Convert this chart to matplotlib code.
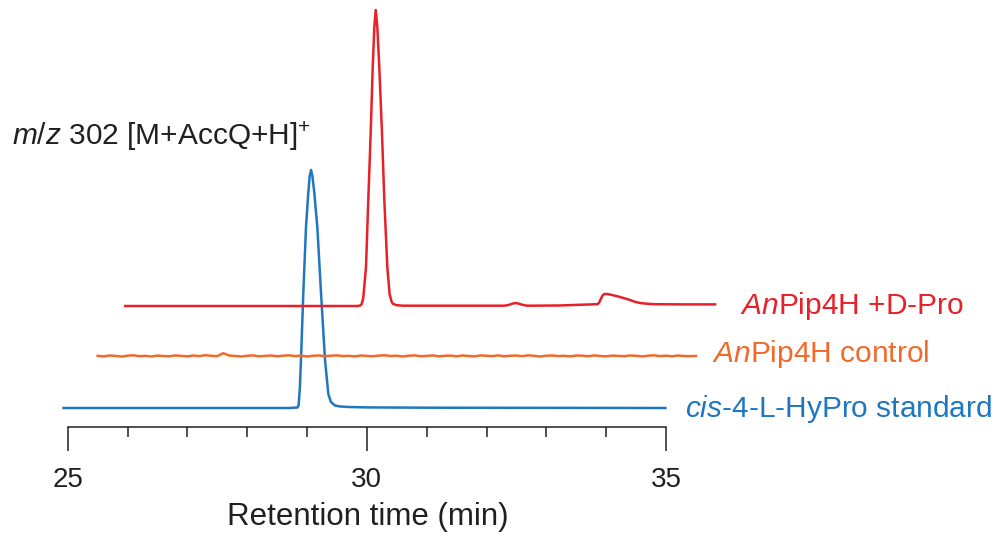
import matplotlib
matplotlib.use("Agg")
import matplotlib.pyplot as plt

plt.rcParams['font.family'] = ['Liberation Sans', 'DejaVu Sans']
plt.rcParams['mathtext.fontset'] = 'custom'
plt.rcParams['mathtext.rm'] = 'Liberation Sans'
plt.rcParams['mathtext.it'] = 'Liberation Sans:italic'
plt.rcParams['mathtext.default'] = 'regular'

# ---------------- data (retention time in min, intensity in arbitrary units) ----------------
blue_t = [24.93, 28.70, 28.84, 28.86, 28.88, 28.899, 28.938, 28.983, 29.021, 29.045, 29.067,
          29.09, 29.122, 29.172, 29.234, 29.301, 29.356, 29.40, 29.468, 29.55, 29.70, 30.00,
          31.00, 34.99]
blue_i = [0, 0, 0.5, 3, 20, 48, 115, 181, 215, 232, 238,
          232, 215, 181, 115, 48, 14, 6, 2.5, 1.5, 1, 0.6,
          0.3, 0]

orange_t = [25.5, 25.6, 25.7, 25.8, 25.9, 26.0, 26.1, 26.2, 26.3, 26.4,
            26.5, 26.6, 26.7, 26.8, 26.9, 27.0, 27.1, 27.2, 27.3, 27.4,
            27.5, 27.6, 27.7, 27.8, 27.9, 28.0, 28.1, 28.2, 28.3, 28.4,
            28.5, 28.6, 28.7, 28.8, 28.9, 29.0, 29.1, 29.2, 29.3, 29.4,
            29.5, 29.6, 29.7, 29.8, 29.9, 30.0, 30.1, 30.2, 30.3, 30.4,
            30.5, 30.6, 30.7, 30.8, 30.9, 31.0, 31.1, 31.2, 31.3, 31.4,
            31.5, 31.6, 31.7, 31.8, 31.9, 32.0, 32.1, 32.2, 32.3, 32.4,
            32.5, 32.6, 32.7, 32.8, 32.9, 33.0, 33.1, 33.2, 33.3, 33.4,
            33.5, 33.6, 33.7, 33.8, 33.9, 34.0, 34.1, 34.2, 34.3, 34.4,
            34.5, 34.6, 34.7, 34.8, 34.9, 35.0, 35.1, 35.2, 35.3, 35.4,
            35.5]
orange_i = [0.2, -0.4, 0.5, 0.1, -0.6, 0.3, 0.7, -0.2, 0.2, -0.5,
            0.4, 0.0, -0.3, 0.6, 0.1, -0.4, 0.5, -0.1, 0.8, 0.2,
            -0.2, 2.8, 0.4, 0.1, -0.5, 0.2, 0.6, -0.3, 0.1, 0.5,
            -0.3, 0.3, 0.7, -0.1, 0.4, -0.5, 0.2, 0.5, -0.2, 0.3,
            0.6, -0.1, 0.2, -0.4, 0.5, 0.1, -0.3, 0.4, 0.7, 0.0,
            0.3, -0.5, 0.3, 0.6, -0.2, 0.1, 0.6, -0.3, 0.2, 0.4,
            -0.3, 0.5, 0.0, -0.4, 0.6, 0.2, -0.1, 0.6, -0.3, 0.3,
            0.4, -0.2, 0.7, 0.1, -0.5, 0.3, 0.5, -0.1, 0.2, -0.4,
            0.5, 0.3, -0.3, 0.6, 0.0, -0.3, 0.4, 0.1, -0.2, 0.5,
            0.2, -0.4, 0.3, 0.7, -0.1, 0.3, -0.3, 0.5, 0.0, -0.2,
            0.1]

red_t = [25.96, 29.85, 29.89, 29.914, 29.94, 29.986, 30.024, 30.064, 30.098, 30.125, 30.148,
         30.175, 30.208, 30.253, 30.292, 30.342, 30.38, 30.415, 30.442, 30.50, 30.60, 31.00,
         32.30, 32.38, 32.44, 32.48, 32.53, 32.60, 32.68, 33.20, 33.60, 33.85, 33.88, 33.91,
         33.94, 33.97, 34.02, 34.10, 34.20, 34.30, 34.40, 34.48, 34.55, 34.65, 34.80, 35.30,
         35.82]
red_i = [0, 0, 0.5, 2, 8, 39, 106, 173, 239, 279, 296,
         279, 239, 173, 106, 39, 12, 4, 2, 0.8, 0.3, 0.3,
         0.3, 1.2, 2.5, 3, 2.5, 1.2, 0.3, 0.5, 1.3, 1.8, 3, 7,
         10.5, 12, 12, 11, 9.5, 7.8, 6, 4.2, 3.2, 2.4, 1.8, 1.6,
         1.6]

trace_labels = [r'$\mathit{An}$Pip4H +D-Pro', r'$\mathit{An}$Pip4H control',
                r'$\mathit{cis}$-4-L-HyPro standard']
title_text = r'$\mathit{m/z}$ 302 [M+AccQ+H]$^{+}$'
xlabel_text = 'Retention time (min)'
major_ticks = [25, 30, 35]
minor_ticks = [26, 27, 28, 29, 31, 32, 33, 34]

# ---------------- layout / style ----------------
red_c = '#E8202A'
orange_c = '#F26A2A'
blue_c = '#1F77C0'
dark = '#231F20'
offsets = {'red': 121, 'orange': 71, 'blue': 19}

W, H = 999, 542
fig = plt.figure(figsize=(W / 100, H / 100), dpi=100)
axis_px_y = 427
ax = fig.add_axes([0, (H - axis_px_y) / H, 1, axis_px_y / H])
ppm = (666 - 67.7) / 10.0
ax.set_xlim(25 - 67.7 / ppm, 25 + (W - 67.7) / ppm)
ax.set_ylim(0, axis_px_y)
ax.patch.set_alpha(0)

for s in ['top', 'right', 'left']:
    ax.spines[s].set_visible(False)
ax.spines['bottom'].set_bounds(25, 35)
ax.spines['bottom'].set_linewidth(1.1)
ax.spines['bottom'].set_color(dark)
ax.set_yticks([])
ax.set_xticks(major_ticks)
ax.set_xticks(minor_ticks, minor=True)
ax.tick_params(axis='x', which='major', direction='out', length=17.5, width=1.1,
               color=dark, labelsize=20, labelcolor=dark, pad=11)
ax.tick_params(axis='x', which='minor', direction='out', length=7.5, width=1.1, color=dark)
ax.set_xlabel(xlabel_text, fontsize=22.5, color=dark, labelpad=7)
ax.xaxis.label.set_x(368.0 / W)

lw = 1.8
ax.plot(blue_t, [v + offsets['blue'] for v in blue_i], color=blue_c, lw=lw, solid_joinstyle='round')
ax.plot(orange_t, [v + offsets['orange'] for v in orange_i], color=orange_c, lw=lw, solid_joinstyle='round')
ax.plot(red_t, [v + offsets['red'] for v in red_i], color=red_c, lw=lw, solid_joinstyle='round')

fs = 21.5
ax.text(red_t[-1] + 0.41, offsets['red'] - 8, trace_labels[0], color=red_c, fontsize=fs, va='baseline', ha='left')
ax.text(orange_t[-1] + 0.27, offsets['orange'] - 6, trace_labels[1], color=orange_c, fontsize=fs, va='baseline', ha='left')
ax.text(blue_t[-1] + 0.33, offsets['blue'] - 9, trace_labels[2], color=blue_c, fontsize=fs, va='baseline', ha='left')

fig.text(12 / W, 1 - 145 / H, title_text, fontsize=fs, color=dark, ha='left', va='baseline')

fig.savefig('out.png', dpi=100)
